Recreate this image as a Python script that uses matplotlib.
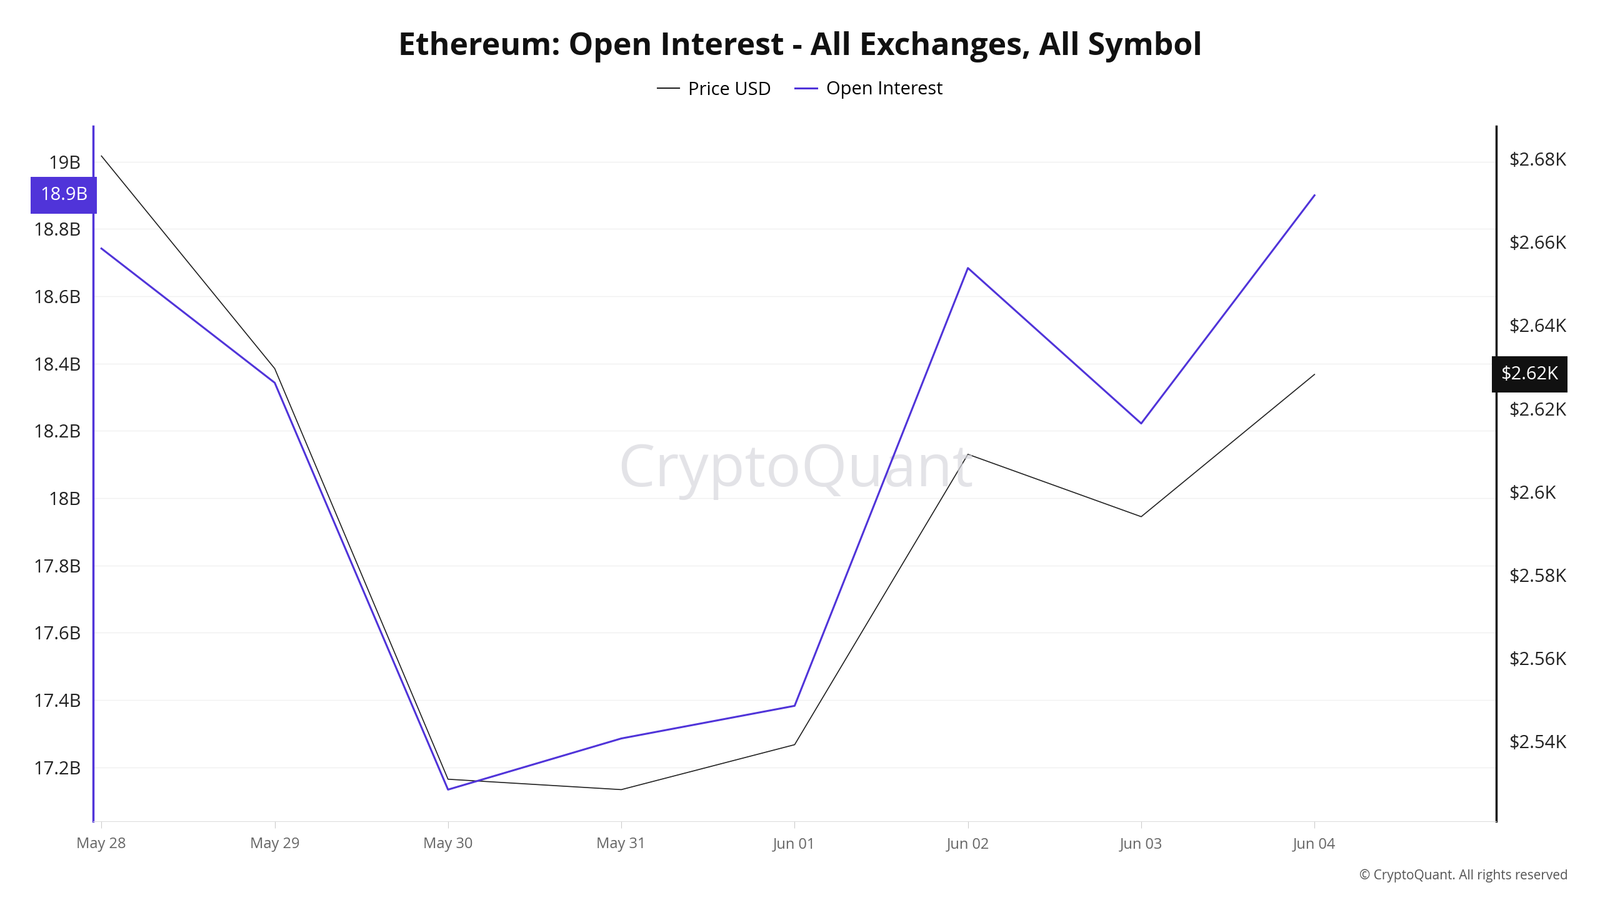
import matplotlib
matplotlib.use("Agg")
import matplotlib.pyplot as plt

dates = ["May 28", "May 29", "May 30", "May 31", "Jun 01", "Jun 02", "Jun 03", "Jun 04"]
open_interest = [18.742, 18.343, 17.134, 17.286, 17.383, 18.684, 18.222, 18.90]
price_usd = [2680.7, 2629.6, 2530.9, 2528.4, 2539.2, 2609.0, 2594.0, 2628.2]
left_ticks = [17.2, 17.4, 17.6, 17.8, 18.0, 18.2, 18.4, 18.6, 18.8, 19.0]
left_labels = ["17.2B", "17.4B", "17.6B", "17.8B", "18B", "18.2B", "18.4B", "18.6B", "18.8B", "19B"]
right_ticks = [2540, 2560, 2580, 2600, 2620, 2640, 2660, 2680]
right_labels = ["$2.54K", "$2.56K", "$2.58K", "$2.6K", "$2.62K", "$2.64K", "$2.66K", "$2.68K"]

plt.rcParams["font.family"] = "Open Sans"
fig = plt.figure(figsize=(25.6, 14.4), dpi=100)
ax = fig.add_axes([0.0583, 0.0875, 0.8770, 0.7725])
ax2 = ax.twinx()
x = list(range(len(dates)))
purple = "#5034d9"
ax.plot(x, open_interest, color=purple, lw=2.2, zorder=3)
ax2.plot(x, price_usd, color="#222222", lw=1.2, zorder=3)
ax.set_xlim(-0.047, 8.05)
ax.set_ylim(17.04, 19.106)
ax2.set_ylim(2520.8, 2687.9)
ax.set_xticks(x)
ax.set_xticklabels(dates, fontsize=17, color="#666666")
ax.set_yticks(left_ticks)
ax.set_yticklabels(left_labels, fontsize=21, color="#222222")
ax2.set_yticks(right_ticks)
ax2.set_yticklabels(right_labels, fontsize=21, color="#222222")
ax2.set_axisbelow(True)
for t in left_ticks:
    ax2.axhline(ax2.transData.inverted().transform(ax.transData.transform((0, t)))[1],
                color="#f0f0f0", lw=1, zorder=0)
for a in (ax, ax2):
    a.spines["top"].set_visible(False)
    a.tick_params(length=0, pad=14)
ax.tick_params(axis="x", length=8, color="#cccccc", pad=10)
ax.spines["left"].set_color(purple); ax.spines["left"].set_linewidth(2.5)
ax2.spines["left"].set_visible(False)
ax.spines["right"].set_visible(False)
ax2.spines["right"].set_color("#111111"); ax2.spines["right"].set_linewidth(2.5)
ax.spines["bottom"].set_color("#dddddd"); ax2.spines["bottom"].set_visible(False)
ax.set_zorder(ax2.get_zorder() + 1); ax.patch.set_visible(False)

ax.text(-0.004, open_interest[-1], "18.9B", transform=ax.get_yaxis_transform(), ha="right", va="center",
        fontsize=21, color="white", bbox=dict(boxstyle="square,pad=0.5", fc=purple, ec="none"))
ax2.text(1.003, price_usd[-1], "$2.62K", transform=ax2.get_yaxis_transform(), ha="left", va="center",
         fontsize=21, color="white", bbox=dict(boxstyle="square,pad=0.5", fc="#111111", ec="none"))

fig.text(0.5, 0.948, "Ethereum: Open Interest - All Exchanges, All Symbol", ha="center", va="center",
         fontsize=36, fontweight="bold", color="#111111")
from matplotlib.lines import Line2D
handles = [Line2D([], [], color="#222222", lw=1.5), Line2D([], [], color=purple, lw=2.2)]
fig.legend(handles, ["Price USD", "Open Interest"], loc="center", bbox_to_anchor=(0.5, 0.9),
           ncol=2, frameon=False, fontsize=21, handlelength=1.2, handletextpad=0.5, columnspacing=1.3)
fig.text(0.497, 0.477, "CryptoQuant", ha="center", va="center", fontsize=68, color="#d8d8de", alpha=0.7, zorder=0)
fig.text(0.98, 0.027, "© CryptoQuant. All rights reserved", ha="right", va="center", fontsize=15, color="#555555")
fig.savefig("out.png", dpi=100, facecolor="white")
